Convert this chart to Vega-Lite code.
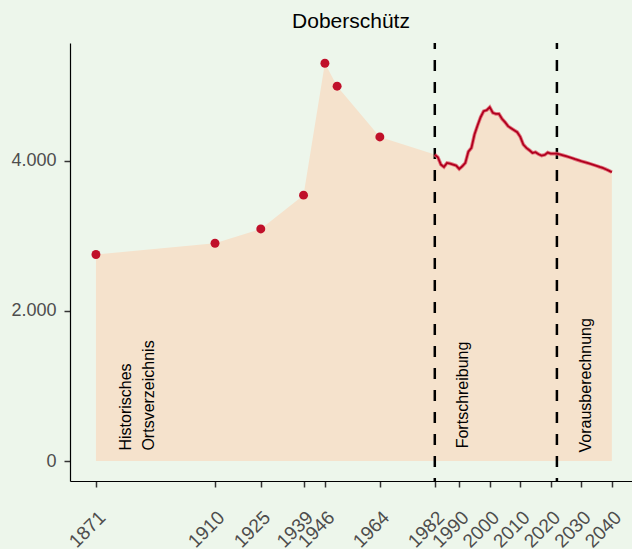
{
  "$schema": "https://vega.github.io/schema/vega-lite/v6.json",
  "autosize": {"type": "none"},
  "padding": {"left": 70, "top": 43, "right": 0, "bottom": 68},
  "width": 562,
  "height": 438,
  "background": "#EDF6EB",
  "title": {"text": "Doberschütz", "fontSize": 21, "font": "Liberation Sans", "fontWeight": "normal", "color": "#000000", "anchor": "middle", "offset": 10},
  "config": {
    "view": {"stroke": null},
    "axis": {
      "domainColor": "#000000",
      "domainWidth": 1.2,
      "tickColor": "#333333",
      "tickWidth": 1.5,
      "tickSize": 6,
      "labelFont": "Liberation Sans",
      "labelFontSize": 18,
      "labelColor": "#4D4D4D",
      "grid": false
    }
  },
  "datasets": {
    "pop": [
      {"year": 1871, "pop": 2750, "src": "hist"},
      {"year": 1910, "pop": 2900, "src": "hist"},
      {"year": 1925, "pop": 3090, "src": "hist"},
      {"year": 1939, "pop": 3540, "src": "hist"},
      {"year": 1946, "pop": 5295, "src": "hist"},
      {"year": 1950, "pop": 4990, "src": "hist"},
      {"year": 1964, "pop": 4315, "src": "hist"},
      {"year": 1982, "pop": 4080, "src": "line"},
      {"year": 1983, "pop": 4044, "src": "line"},
      {"year": 1984, "pop": 3947, "src": "line"},
      {"year": 1985, "pop": 3916, "src": "line"},
      {"year": 1986, "pop": 3969, "src": "line"},
      {"year": 1987, "pop": 3960, "src": "line"},
      {"year": 1988, "pop": 3947, "src": "line"},
      {"year": 1989, "pop": 3933, "src": "line"},
      {"year": 1990, "pop": 3889, "src": "line"},
      {"year": 1991, "pop": 3924, "src": "line"},
      {"year": 1992, "pop": 3969, "src": "line"},
      {"year": 1993, "pop": 4120, "src": "line"},
      {"year": 1994, "pop": 4169, "src": "line"},
      {"year": 1995, "pop": 4347, "src": "line"},
      {"year": 1996, "pop": 4467, "src": "line"},
      {"year": 1997, "pop": 4577, "src": "line"},
      {"year": 1998, "pop": 4658, "src": "line"},
      {"year": 1999, "pop": 4671, "src": "line"},
      {"year": 2000, "pop": 4711, "src": "line"},
      {"year": 2001, "pop": 4636, "src": "line"},
      {"year": 2002, "pop": 4622, "src": "line"},
      {"year": 2003, "pop": 4622, "src": "line"},
      {"year": 2004, "pop": 4556, "src": "line"},
      {"year": 2005, "pop": 4511, "src": "line"},
      {"year": 2006, "pop": 4458, "src": "line"},
      {"year": 2007, "pop": 4431, "src": "line"},
      {"year": 2008, "pop": 4404, "src": "line"},
      {"year": 2009, "pop": 4378, "src": "line"},
      {"year": 2010, "pop": 4316, "src": "line"},
      {"year": 2011, "pop": 4213, "src": "line"},
      {"year": 2012, "pop": 4169, "src": "line"},
      {"year": 2013, "pop": 4138, "src": "line"},
      {"year": 2014, "pop": 4102, "src": "line"},
      {"year": 2015, "pop": 4111, "src": "line"},
      {"year": 2016, "pop": 4084, "src": "line"},
      {"year": 2017, "pop": 4067, "src": "line"},
      {"year": 2018, "pop": 4076, "src": "line"},
      {"year": 2019, "pop": 4107, "src": "line"},
      {"year": 2020, "pop": 4093, "src": "line"},
      {"year": 2021, "pop": 4093, "src": "line"},
      {"year": 2022, "pop": 4093, "src": "line"},
      {"year": 2023, "pop": 4082, "src": "line"},
      {"year": 2024, "pop": 4070, "src": "line"},
      {"year": 2025, "pop": 4058, "src": "line"},
      {"year": 2026, "pop": 4046, "src": "line"},
      {"year": 2027, "pop": 4032, "src": "line"},
      {"year": 2028, "pop": 4018, "src": "line"},
      {"year": 2029, "pop": 4005, "src": "line"},
      {"year": 2030, "pop": 3992, "src": "line"},
      {"year": 2031, "pop": 3980, "src": "line"},
      {"year": 2032, "pop": 3968, "src": "line"},
      {"year": 2033, "pop": 3956, "src": "line"},
      {"year": 2034, "pop": 3943, "src": "line"},
      {"year": 2035, "pop": 3930, "src": "line"},
      {"year": 2036, "pop": 3915, "src": "line"},
      {"year": 2037, "pop": 3902, "src": "line"},
      {"year": 2038, "pop": 3885, "src": "line"},
      {"year": 2039, "pop": 3866, "src": "line"},
      {"year": 2040, "pop": 3845, "src": "line"}
    ],
    "breaks": [
      {"year": 1982},
      {"year": 2022}
    ],
    "labels": [
      {"year": 1881, "pop": 140, "label": "Historisches"},
      {"year": 1888.4, "pop": 140, "label": "Ortsverzeichnis"},
      {"year": 1991.3, "pop": 170, "label": "Fortschreibung"},
      {"year": 2031.4, "pop": 115, "label": "Vorausberechnung"}
    ]
  },
  "layer": [
    {
      "data": {"name": "pop"},
      "mark": {"type": "area", "color": "#F5E2CC", "opacity": 1},
      "encoding": {
        "x": {
          "field": "year", "type": "quantitative",
          "scale": {"domain": [1862.5, 2046.6], "nice": false, "zero": false},
          "axis": {
            "title": null,
            "values": [1871, 1910, 1925, 1939, 1946, 1964, 1982, 1990, 2000, 2010, 2020, 2030, 2040],
            "format": "d",
            "labelAngle": -45,
            "labelAlign": "right",
            "labelBaseline": "middle",
            "labelFontSize": 19,
            "labelPadding": 27,
            "labelOffset": 6,
            "labelOverlap": false,
            "labelFlush": false
          }
        },
        "y": {
          "field": "pop", "type": "quantitative",
          "scale": {"domain": [-265, 5565], "nice": false, "zero": false},
          "axis": {
            "title": null,
            "values": [0, 2000, 4000],
            "labelExpr": "replace(format(datum.value, ','), ',', '.')",
            "labelPadding": 8
          }
        },
        "y2": {"datum": 0}
      }
    },
    {
      "data": {"name": "breaks"},
      "mark": {"type": "rule", "color": "#000000", "strokeWidth": 2.5, "strokeDash": [11, 11], "strokeDashOffset": 5},
      "encoding": {
        "x": {"field": "year", "type": "quantitative"}
      }
    },
    {
      "data": {"name": "pop"},
      "transform": [{"filter": "datum.src === 'line'"}],
      "mark": {"type": "line", "color": "#E0606E", "strokeWidth": 3.6, "opacity": 0.85},
      "encoding": {
        "x": {"field": "year", "type": "quantitative"},
        "y": {"field": "pop", "type": "quantitative"}
      }
    },
    {
      "data": {"name": "pop"},
      "transform": [{"filter": "datum.src === 'line'"}],
      "mark": {"type": "line", "color": "#B0001E", "strokeWidth": 1.8},
      "encoding": {
        "x": {"field": "year", "type": "quantitative"},
        "y": {"field": "pop", "type": "quantitative"}
      }
    },
    {
      "data": {"name": "pop"},
      "transform": [{"filter": "datum.src === 'hist'"}],
      "mark": {"type": "point", "filled": true, "shape": "circle", "size": 80, "color": "#C0102A", "opacity": 1},
      "encoding": {
        "x": {"field": "year", "type": "quantitative"},
        "y": {"field": "pop", "type": "quantitative"}
      }
    },
    {
      "data": {"name": "labels"},
      "mark": {"type": "text", "angle": -90, "align": "left", "baseline": "middle", "font": "Liberation Sans", "fontSize": 16, "color": "#000000"},
      "encoding": {
        "x": {"field": "year", "type": "quantitative"},
        "y": {"field": "pop", "type": "quantitative"},
        "text": {"field": "label"}
      }
    }
  ]
}
